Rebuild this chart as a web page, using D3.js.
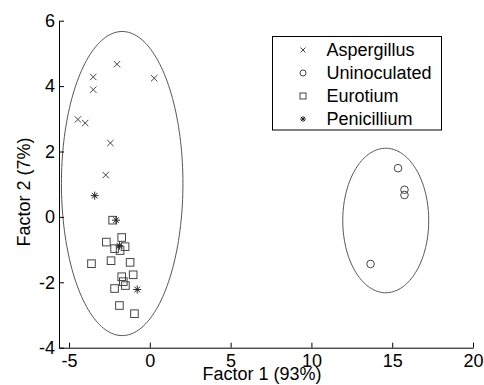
<!DOCTYPE html>
<html>
<head>
<meta charset="utf-8">
<script src="https://cdn.jsdelivr.net/npm/d3@7"></script>
<style>
html,body{margin:0;padding:0;background:#fff;}
svg{display:block;font-family:"Liberation Sans",Arial,sans-serif;}
</style>
</head>
<body>
<svg id="chart" width="484" height="385"></svg>
<script>
// ---- data ----
const aspergillusX = [-2.03, -3.5, -3.5, 0.27, -4.45, -4.0, -2.44, -2.73];
const aspergillusY = [4.67, 4.28, 3.89, 4.24, 2.98, 2.87, 2.26, 1.28];
const uninoculatedX = [15.36, 15.76, 15.76, 13.66];
const uninoculatedY = [1.49, 0.83, 0.67, -1.44];
const eurotiumX = [-2.3, -1.74, -2.69, -2.18, -1.53, -1.84, -3.61, -2.4, -1.22, -1.03, -1.74, -1.64, -1.51, -2.18, -1.88, -0.95];
const eurotiumY = [-0.10, -0.63, -0.77, -0.97, -0.91, -1.03, -1.43, -1.34, -1.39, -1.77, -1.83, -1.98, -2.10, -2.19, -2.71, -2.96];
const penicilliumX = [-3.41, -2.09, -1.88, -0.78];
const penicilliumY = [0.65, -0.10, -0.88, -2.22];
const ellipseCX = [-1.71, 14.6];
const ellipseCY = [1.02, -0.11];
const ellipseRX = [3.76, 2.66];
const ellipseRY = [4.65, 2.21];
const xTicks = [-5, 0, 5, 10, 15, 20];
const yTicks = [-4, -2, 0, 2, 4, 6];
const seriesNames = ["Aspergillus", "Uninoculated", "Eurotium", "Penicillium"];
const xLabel = "Factor 1 (93%)";
const yLabel = "Factor 2 (7%)";

// ---- layout ----
const svg = d3.select("#chart");
const x = d3.scaleLinear().domain([-5.62, 20]).range([59, 473]);
const y = d3.scaleLinear().domain([-4, 6]).range([347.7, 20.7]);
const markColor = "#444";

// ellipses
const ellLine = d3.line().x(d => x(d[0])).y(d => y(d[1]));
ellipseCX.forEach((cx, i) => {
  const pts = d3.range(0, 361, 2).map(a => {
    const t = a * Math.PI / 180;
    return [cx + ellipseRX[i] * Math.cos(t), ellipseCY[i] + ellipseRY[i] * Math.sin(t)];
  });
  svg.append("path").attr("d", ellLine(pts)).attr("fill", "none")
    .attr("stroke", "#555").attr("stroke-width", 1);
});

// marker drawers
function drawX(g, cx, cy, s) {
  g.append("path").attr("d", `M${cx-s},${cy-s}L${cx+s},${cy+s}M${cx-s},${cy+s}L${cx+s},${cy-s}`)
    .attr("stroke", markColor).attr("stroke-width", 1).attr("fill", "none");
}
function drawO(g, cx, cy, s) {
  g.append("circle").attr("cx", cx).attr("cy", cy).attr("r", s)
    .attr("stroke", markColor).attr("stroke-width", 1).attr("fill", "none");
}
function drawSq(g, cx, cy, s) {
  g.append("rect").attr("x", cx - s).attr("y", cy - s).attr("width", 2 * s).attr("height", 2 * s)
    .attr("stroke", markColor).attr("stroke-width", 1).attr("fill", "none");
}
function drawStar(g, cx, cy, s) {
  const d = s * 0.7071;
  g.append("path").attr("d",
    `M${cx-s},${cy}L${cx+s},${cy}M${cx},${cy-s}L${cx},${cy+s}M${cx-d},${cy-d}L${cx+d},${cy+d}M${cx-d},${cy+d}L${cx+d},${cy-d}`)
    .attr("stroke", "#222").attr("stroke-width", 1).attr("fill", "none");
}

const pts = svg.append("g");
aspergillusX.forEach((v, i) => drawX(pts, x(v), y(aspergillusY[i]), 3.2));
uninoculatedX.forEach((v, i) => drawO(pts, x(v), y(uninoculatedY[i]), 3.8));
eurotiumX.forEach((v, i) => drawSq(pts, x(v), y(eurotiumY[i]), 3.8));
penicilliumX.forEach((v, i) => drawStar(pts, x(v), y(penicilliumY[i]), 4));

// axes
const xAxis = d3.axisBottom(x).tickValues(xTicks).tickSize(-5).tickPadding(7).tickSizeOuter(0);
const yAxis = d3.axisLeft(y).tickValues(yTicks).tickSize(-5).tickPadding(4).tickSizeOuter(0);
const gx = svg.append("g").attr("transform", `translate(0,${y(-4)})`).call(xAxis);
const gy = svg.append("g").attr("transform", `translate(${x.range()[0]},0)`).call(yAxis);
[gx, gy].forEach(g => {
  g.select(".domain").attr("stroke", "#000").attr("stroke-width", 1);
  g.selectAll(".tick line").attr("stroke", "#000");
  g.selectAll(".tick text").attr("fill", "#000").style("font-size", "18px")
    .style("font-family", '"Liberation Sans",Arial,sans-serif');
});
gx.selectAll(".tick text").text(d => d < 0 ? "-" + Math.abs(d) : d);
gy.selectAll(".tick text").text(d => d < 0 ? "-" + Math.abs(d) : d);

// axis labels
svg.append("text").attr("x", 262).attr("y", 380).attr("text-anchor", "middle")
  .style("font-size", "18px").attr("fill", "#000").text(xLabel);
svg.append("text").attr("transform", "translate(30,192) rotate(-90)").attr("text-anchor", "middle")
  .style("font-size", "18px").attr("fill", "#000").text(yLabel);

// legend
const leg = svg.append("g");
leg.append("rect").attr("x", 272.5).attr("y", 36.5).attr("width", 169).attr("height", 93.5)
  .attr("fill", "#fff").attr("stroke", "#000").attr("stroke-width", 1);
const drawers = [drawX, drawO, drawSq, drawStar];
const sizes = [2.5, 3, 3, 3];
seriesNames.forEach((name, i) => {
  const cy = 50 + i * 23;
  drawers[i](leg, 303, cy, sizes[i]);
  leg.append("text").attr("x", 326.5).attr("y", cy).attr("dy", "0.36em")
    .style("font-size", "18px").attr("fill", "#000").text(name);
});
</script>
</body>
</html>
